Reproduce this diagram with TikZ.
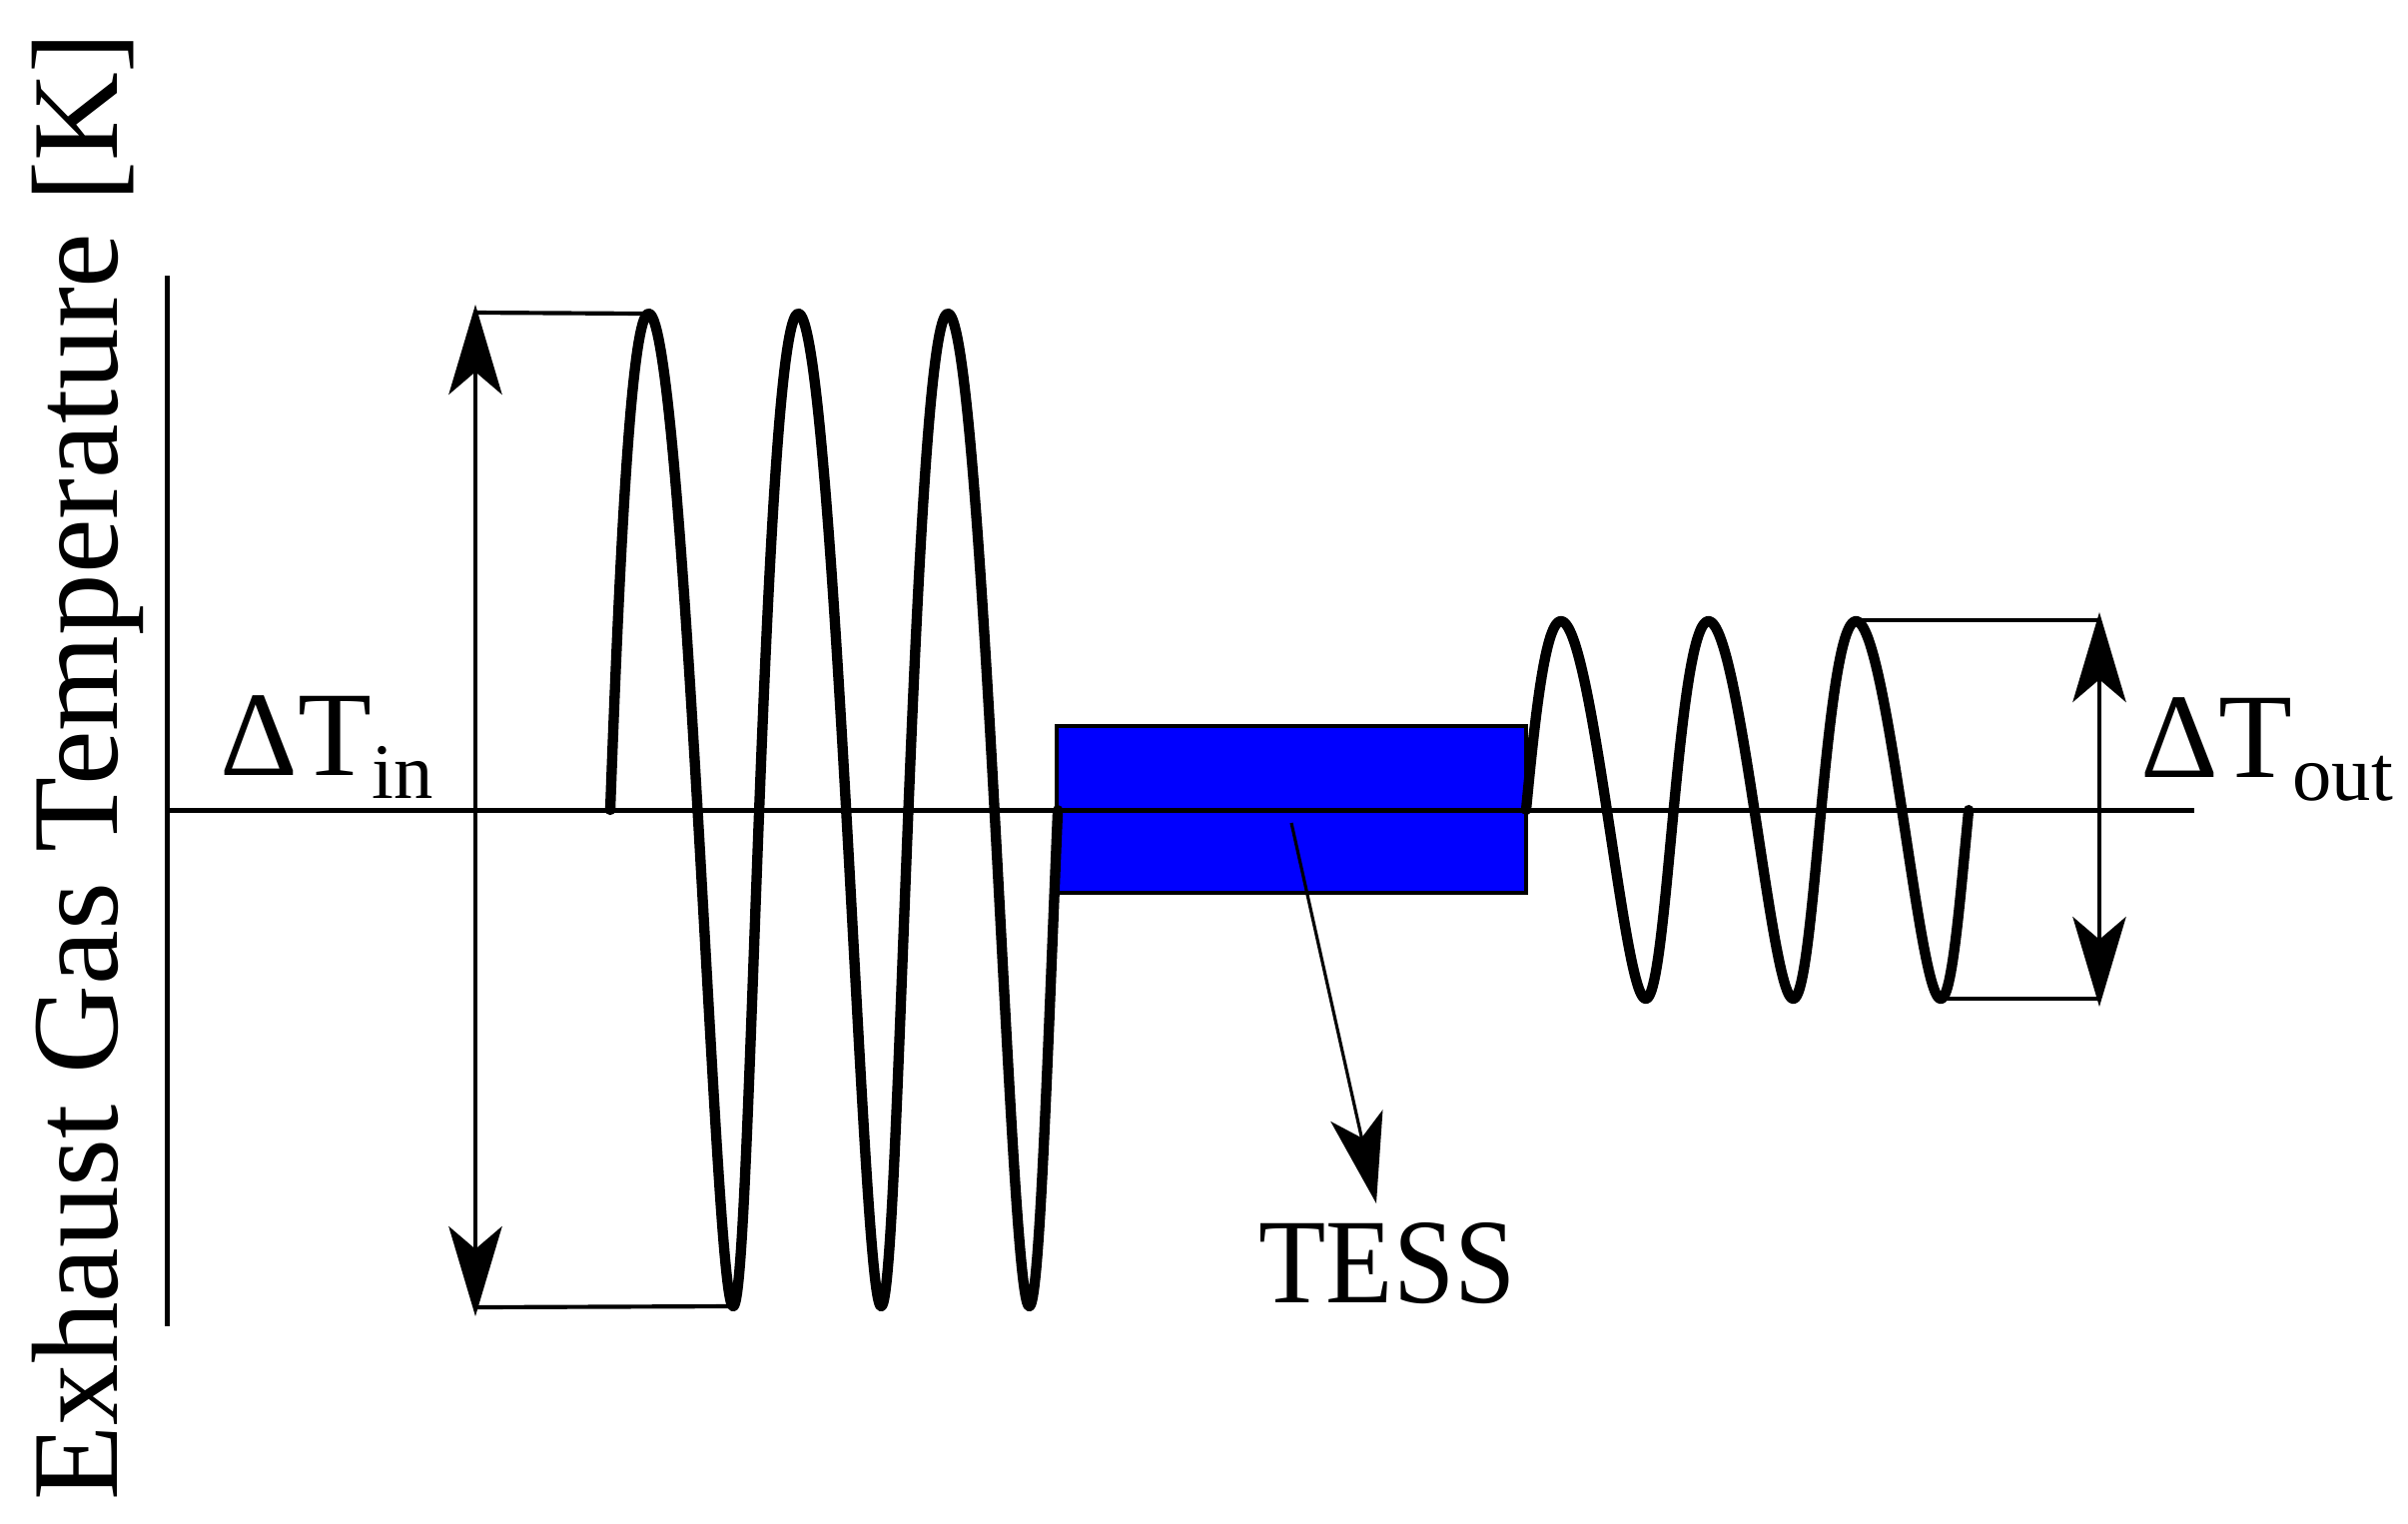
\documentclass[tikz,border=0pt]{standalone}
\usepackage{fontspec}
\usepackage{graphicx}
\setmainfont{Liberation Serif}
\usetikzlibrary{arrows.meta}
\newcommand\dlsub[1]{\raisebox{-6.9pt}{\fontsize{23.6pt}{26pt}\selectfont #1}}
\begin{document}
\begin{tikzpicture}[x=0.3pt,y=-0.3pt,
  axisline/.style={line width=1.5pt},
  wave/.style={line width=3.1pt, line join=round, line cap=round},
  dimline/.style={line width=1.25pt},
  bigtip/.style={{Stealth[length=27pt,width=16pt,inset=6.8pt]}-{Stealth[length=27pt,width=16pt,inset=6.8pt]}},
  onetip/.style={-{Stealth[length=27pt,width=16pt,inset=6.8pt]}},
  lbl/.style={inner sep=0pt, font=\fontsize{36.3pt}{40pt}\selectfont},
]
\useasboundingbox[fill=white] (0,0) rectangle (2411,1525);

% TESS box
\node (tessbox) [draw=black, line width=1pt, fill={rgb,255:red,0;green,0;blue,255},
  inner sep=0pt, minimum width=141pt, minimum height=50.1pt] at (1293,810.5) {};

% axes
\coordinate (ytop) at (167,276);
\coordinate (ybot) at (167,1328);
\coordinate (xl) at (166,811);
\coordinate (xr) at (2197,811);
\draw[axisline] (ytop) -- (ybot);
\draw[axisline] (xl) -- (xr);

% input dimension
\coordinate (inTop) at (476,313);
\coordinate (inBot) at (476,1309);
\coordinate (p1) at (646,314);
\coordinate (t1) at (732,1308);
\coordinate (inArrT) at (476,305);
\coordinate (inArrB) at (476,1318);
\draw[dimline] (inTop) -- (p1);
\draw[dimline] (inBot) -- (t1);
\draw[dimline, bigtip] (inArrB) -- (inArrT);

% output dimension
\coordinate (p6) at (1858,621);
\coordinate (t6) at (1943,1000);
\coordinate (outTop) at (2102,621);
\coordinate (outBot) at (2102,1000);
\coordinate (outArrT) at (2102,613);
\coordinate (outArrB) at (2102,1008);
\draw[dimline] (p6) -- (outTop);
\draw[dimline] (t6) -- (outBot);
\draw[dimline, bigtip] (outArrB) -- (outArrT);

% waves
\draw[wave] plot[domain=0:6*pi, samples=400, variable=\t]
  ({611 + 149*\t/(2*pi) - 5.5*sin(\t r) + 3.5*(1-cos(\t r)) + 6*sin(\t/6*180)^2}, {811 - 497*sin(\t r)});
\draw[wave] plot[domain=0:6*pi, samples=400, variable=\t]
  ({1528 + 147.7*\t/(2*pi) - 5.5*sin(\t r) + 3.5*(1-cos(\t r))}, {811 - 189*sin(\t r)});

% TESS pointer
\coordinate (tessfrom) at (1293,824);
\coordinate (tessto) at (1378,1205);
\draw[line width=0.95pt, onetip] (tessfrom) -- (tessto);

% labels
\node (ylabel) [lbl, rotate=90, anchor=base west, font=\fontsize{36.9pt}{40pt}\selectfont] at (117,1503) {Exhaust Gas Temperature [K]};
\node (dtin) [lbl, anchor=base west] at (220,776) {ΔT\dlsub{in}};
\node (dtout) [lbl, anchor=base west] at (2143,778) {ΔT\dlsub{out}};
\node (tess) [lbl, anchor=base] at (1389,1304) {\scalebox{0.91}[1]{TESS}};
\end{tikzpicture}
\end{document}
